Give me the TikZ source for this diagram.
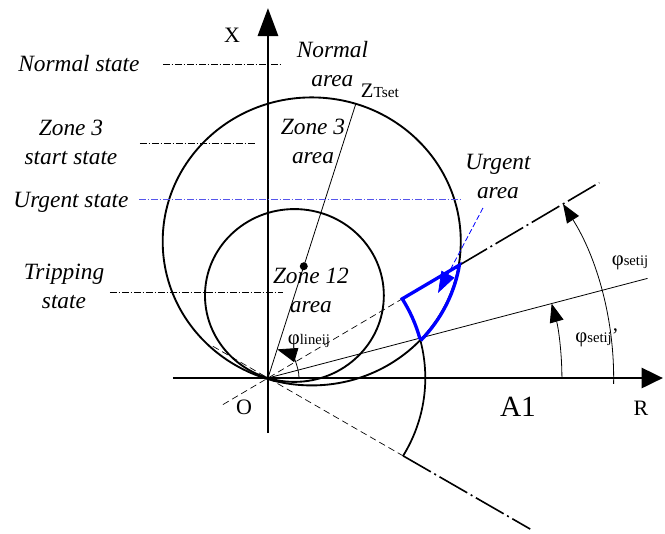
\documentclass[tikz,border=0pt]{standalone}
\usepackage{fontspec}
\setmainfont{Liberation Serif}
\usetikzlibrary{arrows.meta,calc}
\definecolor{urgblue}{RGB}{85,85,235}
\begin{document}
\begin{tikzpicture}[x=0.77625pt,y=0.75pt,
    lbl/.style={font=\fontsize{17.5}{21.75}\selectfont\itshape, align=center, inner sep=0pt},
    axlbl/.style={font=\fontsize{16.5}{20}\selectfont, inner sep=0pt},
    phlbl/.style={font=\fontsize{15.5}{18}\selectfont, inner sep=0pt},
    statel/.style={line width=0.5pt, dash pattern=on 5pt off 1.5pt on 1pt off 1.5pt},
    dashln/.style={line width=0.5pt, dash pattern=on 5pt off 3pt},
    longdd/.style={line width=1.2pt, dash pattern=on 24pt off 3pt on 1.5pt off 3pt},
    angarr/.style={line width=0.6pt, -{Triangle[length=14pt,width=10.5pt]}}]
    \useasboundingbox (-258.9,-155) rectangle (383.6,378);
    \coordinate (O) at (0,0);
    % axes
    \draw[line width=2.2pt, -{Triangle[length=16pt,width=15pt]}] (-91.8,0) -- (381.6,0);
    \draw[line width=2.2pt, -{Triangle[length=21pt,width=15pt]}] (0,-55) -- (0,370);
    % zone circles and line impedance
    \draw[line width=1.4pt] (72.8:143) circle[radius=144];
    \draw[line width=1.4pt] (72.8:86.4) circle[radius=86.4];
    \draw[line width=0.6pt] (O) -- (72.8:287) coordinate (zt);
    \fill (72.8:117) circle[radius=3pt];
    % setting lines
    \draw[dashln] (211.4:51) -- (31.4:152);
    \draw[longdd] (31.4:216.7) -- (31.4:375);
    \draw[dashln] (149.2:62) -- (-30.8:152);
    \draw[longdd] (-30.8:152) -- (-30.8:295);
    \draw[line width=0.6pt] (O) -- (15.2:380);
    \draw[line width=1.3pt] (-30.8:152) arc[start angle=-30.8, end angle=15.2, radius=152];
    % urgent area
    \draw[blue, line width=2.5pt] (15.2:152) arc[start angle=15.2, end angle=31.4, radius=152]
      -- (31.4:216.7) arc[start angle=-9.4, end angle=-42.8, radius=144] -- cycle;
    \coordinate (ptr) at (207.7,170);
    \coordinate (ptrtip) at (164.3,85);
    \draw[blue, line width=0.6pt, dash pattern=on 4pt off 2pt] (ptr) -- ($(ptr)!0.8!(ptrtip)$) coordinate (ptrmid);
    \draw[blue, line width=0.6pt, -{Triangle[length=16pt,width=11pt]}] (ptrmid) -- (ptrtip);
    % state lines
    \foreach \a/\b/\y in {-101.4/14.5/314, -123.7/-11.6/235, -152.7/14.5/86} {\draw[statel] (\a,\y) -- (\b,\y);}
    \draw[statel, urgblue, line width=0.6pt] (-124.6,179) -- (187.4,179);
    % angles
    \draw[angarr, -{Triangle[length=15pt,width=11pt]}] (0:30) arc[start angle=0, end angle=72.8, radius=30];
    \draw[angarr] (0:284) arc[start angle=0, end angle=15.2, radius=284];
    \draw[angarr] (-1:334) arc[start angle=-1, end angle=31.4, radius=334];
    % labels
    \node[lbl] (ns) at (-182.6,314) {Normal state};
    \node[lbl] (z3s) at (-190.3,235.5) {Zone 3\\start state};
    \node[lbl] (us) at (-190.3,176) {Urgent state};
    \node[lbl] (ts) at (-197.1,91.5) {Tripping\\state};
    \node[lbl] (na) at (62.3,314) {Normal\\area};
    \node[lbl] (z3a) at (43.5,236.5) {Zone 3\\area};
    \node[lbl] (z12a) at (41.5,88) {Zone 12\\area};
    \node[lbl] (ua) at (222.2,201.5) {Urgent\\area};
    \node[axlbl] (xl) at (-34.8,343) {X};
    \node[axlbl] (ol) at (-23.2,-29) {O};
    \node[axlbl, font=\fontsize{22}{26}\selectfont] (a1) at (241.5,-29) {A1};
    \node[axlbl] (rl) at (360.4,-30) {R};
    \node[axlbl, font=\fontsize{15.5}{18}\selectfont] (ztl) at (108.2,287) {Z{\fontsize{11.5}{13}\selectfont Tset}};
    \node[phlbl] (phl) at (39.6,36) {φ{\fontsize{11}{13}\selectfont lineij}};
    \node[phlbl] (phs) at (349.8,115) {φ{\fontsize{11}{13}\selectfont setij}};
    \node[phlbl] (phs2) at (317.9,40) {φ{\fontsize{11}{13}\selectfont setij}’};
\end{tikzpicture}
\end{document}
